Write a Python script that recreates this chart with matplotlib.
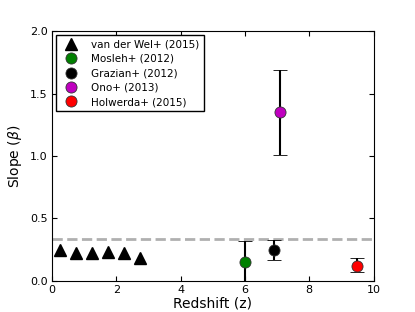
import matplotlib
matplotlib.use("Agg")
import matplotlib.pyplot as plt
from matplotlib.lines import Line2D

# van der Wel+ (2015) points
vdw_z = [0.25, 0.75, 1.25, 1.75, 2.25, 2.75]
vdw_b = [0.25, 0.22, 0.22, 0.23, 0.22, 0.18]

# single high-z points: (z, beta, lower err, upper err)
mosleh = (6.0, 0.15, 0.17, 0.17)
grazian = (6.9, 0.25, 0.085, 0.08)
ono = (7.1, 1.35, 0.34, 0.34)
holwerda = (9.5, 0.12, 0.05, 0.06)

ref_level = 1.0 / 3.0

fig = plt.figure(figsize=(4.15, 3.12), dpi=100)
ax = fig.add_axes([0.125, 0.10, 0.775, 0.80])

ax.axhline(ref_level, color='#b0b0b0', ls='--', lw=2, zorder=1)

ax.plot(vdw_z, vdw_b, '^', color='black', ms=8, ls='none',
        label='van der Wel+ (2015)')

def pt(d, color, label):
    ax.errorbar([d[0]], [d[1]], yerr=[[d[2]], [d[3]]], fmt='o', color=color,
                mec='#333333', mew=0.6, ecolor='black', ms=8, elinewidth=1.5,
                capsize=5, capthick=1.5, label=label, zorder=3)

pt(mosleh, 'green', 'Mosleh+ (2012)')
pt(grazian, 'black', 'Grazian+ (2012)')
pt(ono, 'm', 'Ono+ (2013)')
pt(holwerda, 'red', 'Holwerda+ (2015)')

ax.set_xlim(0, 10)
ax.set_ylim(0, 2.0)
ax.set_xticks([0, 2, 4, 6, 8, 10])
ax.set_yticks([0.0, 0.5, 1.0, 1.5, 2.0])
ax.tick_params(direction='in', top=True, right=True, labelsize=8, pad=3)
ax.set_xlabel('Redshift (z)', fontsize=10, labelpad=1)
ax.set_ylabel(r'Slope ($\beta$)', fontsize=10)

labels = ['van der Wel+ (2015)', 'Mosleh+ (2012)', 'Grazian+ (2012)',
          'Ono+ (2013)', 'Holwerda+ (2015)']
cols = ['green', 'black', 'm', 'red']
handles = [Line2D([], [], marker='^', color='black', ls='none', ms=8)] + \
          [Line2D([], [], marker='o', color=c, mec='#333333', mew=0.6,
                  ls='none', ms=8) for c in cols]
leg = ax.legend(handles, labels, loc='upper left', fontsize=7.5, numpoints=1,
                fancybox=False, framealpha=1, borderaxespad=0.4,
                handletextpad=1.0, labelspacing=0.42, borderpad=0.4)
leg.get_frame().set_edgecolor('black')

fig.savefig('out.png', dpi=100)
